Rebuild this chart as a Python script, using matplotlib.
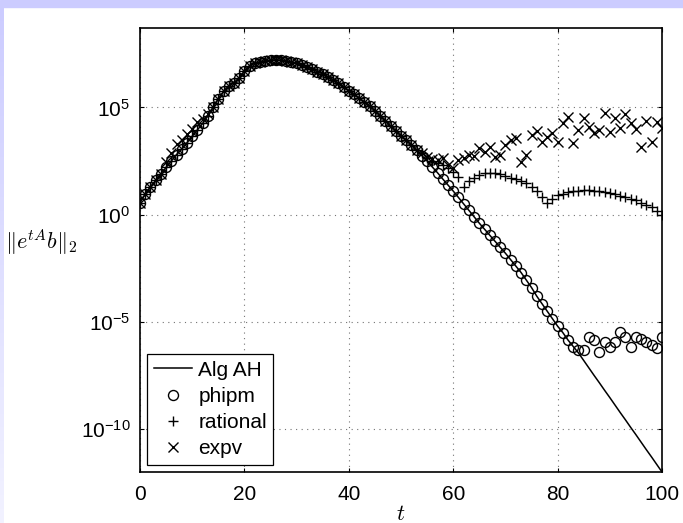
import numpy as np
import matplotlib.pyplot as plt
from matplotlib.patches import Rectangle
from matplotlib.ticker import NullLocator
from matplotlib.colors import LinearSegmentedColormap

plt.rcParams['font.family'] = ['Liberation Sans', 'DejaVu Sans']
plt.rcParams['mathtext.fontset'] = 'cm'

# time grid
t = np.arange(0, 101)

# log10 of ||e^{tA} b||_2, t = 0..100
alg_ah_exp = [
    0.55, 0.95, 1.3, 1.6, 1.9, 2.2, 2.5, 2.8, 3.05, 3.35,
    3.65, 3.95, 4.25, 4.6, 5.0, 5.4, 5.75, 6.0, 6.15, 6.35,
    6.7, 6.95, 7.05, 7.12, 7.17, 7.2, 7.22, 7.2, 7.17, 7.12,
    7.05, 6.97, 6.88, 6.78, 6.67, 6.55, 6.42, 6.28, 6.12, 5.95,
    5.78, 5.6, 5.42, 5.24, 5.05, 4.85, 4.62, 4.38, 4.12, 3.9,
    3.68, 3.47, 3.25, 3.0, 2.75, 2.5, 2.22, 1.95, 1.66, 1.38,
    1.1, 0.8, 0.5, 0.2, -0.1, -0.4, -0.68, -0.96, -1.24, -1.52,
    -1.8, -2.1, -2.4, -2.7, -3.05, -3.4, -3.8, -4.15, -4.5, -4.85,
    -5.2, -5.5, -5.85, -6.15, -6.45, -6.8, -7.15, -7.5, -7.84, -8.19,
    -8.53, -8.88, -9.23, -9.57, -9.92, -10.26, -10.61, -10.96, -11.3, -11.65,
    -12.0,
]

# phipm follows Alg AH up to t=83, then stalls around 1e-6
phipm_tail = [-6.3, -6.3, -5.7, -5.85, -6.4, -5.95, -6.15, -5.95, -5.45, -5.7,
              -6.15, -5.7, -5.8, -5.93, -6.08, -6.22, -5.7]
phipm_exp = alg_ah_exp[:84] + phipm_tail

# rational follows Alg AH up to t=53
rational_tail = [2.85, 2.65, 2.5, 2.4, 2.3, 2.15, 2.0, 1.75, 1.3, 1.55,
                 1.72, 1.85, 1.92, 1.95, 1.93, 1.88, 1.8, 1.72, 1.65, 1.57,
                 1.47, 1.3, 1.12, 0.8, 0.55, 0.75, 0.9, 0.98, 1.05, 1.1,
                 1.12, 1.13, 1.13, 1.12, 1.1, 1.06, 1.0, 0.95, 0.88, 0.82,
                 0.74, 0.66, 0.56, 0.46, 0.34, 0.15, 0.0]
rational_exp = alg_ah_exp[:54] + rational_tail

# expv: a bit high for t=5..13, then scatters after t=54
expv_early = [2.45, 2.85, 3.3, 3.5, 3.75, 4.0, 4.3, 4.45, 4.7]
expv_tail = [2.85, 2.7, 2.6, 2.55, 2.63, 2.3, 2.17, 2.55, 2.63, 2.78,
             2.73, 3.1, 2.92, 3.15, 2.68, 2.78, 3.24, 3.47, 3.57, 2.45,
             2.78, 3.7, 3.9, 3.38, 3.62, 3.8, 3.4, 4.27, 4.55, 3.33,
             3.94, 4.52, 4.08, 3.82, 3.96, 4.73, 3.85, 4.5, 4.03, 4.71,
             4.29, 3.98, 3.15, 4.35, 3.38, 4.31, 4.03]
expv_exp = alg_ah_exp[:5] + expv_early + alg_ah_exp[14:54] + expv_tail

xticks = [0, 20, 40, 60, 80, 100]
yticks = [1e-10, 1e-5, 1e0, 1e5]
ytick_labels = [r'$\mathregular{10^{-10}}$', r'$\mathregular{10^{-5}}$',
                r'$\mathregular{10^{0}}$', r'$\mathregular{10^{5}}$']

W, H = 683, 523
fig = plt.figure(figsize=(W / 100, H / 100), dpi=100)

# slide frame: lavender band on top, fading strip on the left
fig.add_artist(Rectangle((0, 1 - 7 / H), 1, 7 / H, transform=fig.transFigure,
                         color='#ccccff', zorder=0))
strip = fig.add_axes([0, 0, 4 / W, 1 - 7 / H])
grad = np.linspace(0, 1, 256).reshape(-1, 1)
cmap = LinearSegmentedColormap.from_list('lav', ['#ccccff', '#f2f2ff'])
strip.imshow(grad, aspect='auto', cmap=cmap, origin='upper')
strip.axis('off')

ax = fig.add_axes([140 / W, 1 - 472 / H, 522 / W, 444 / H])

ax.semilogy(t, 10.0 ** np.array(alg_ah_exp), color='k', lw=1.1, label='Alg AH')
ax.semilogy(t, 10.0 ** np.array(phipm_exp), ls='none', marker='o', ms=7.2,
            mfc='none', mec='k', mew=1.0, label='phipm')
ax.semilogy(t, 10.0 ** np.array(rational_exp), ls='none', marker='+', ms=7.5,
            mec='k', mew=1.0, label='rational')
ax.semilogy(t, 10.0 ** np.array(expv_exp), ls='none', marker='x', ms=6.5,
            mec='k', mew=1.0, label='expv')

ax.set_xlim(0, 100)
ax.set_ylim(1e-12, 10 ** 8.7)
ax.set_xticks(xticks)
ax.set_yticks(yticks)
ax.set_yticklabels(ytick_labels)
ax.yaxis.set_minor_locator(NullLocator())
ax.tick_params(axis='both', direction='in', top=True, right=True, length=3,
               width=0.8, labelsize=15)
ax.tick_params(axis='x', pad=9)
ax.tick_params(axis='y', pad=7)
ax.grid(True, ls=(0, (1, 4)), color='0.45', lw=0.8)
for s in ax.spines.values():
    s.set_linewidth(1.2)

ax.set_xlabel(r'$t$', fontsize=16, labelpad=0)
ax.set_ylabel(r'$\|e^{tA}b\|_2$', fontsize=16, rotation=0, ha='center', va='center')
ax.yaxis.set_label_coords(-0.19, 0.518)

leg = ax.legend(loc='lower left', fontsize=15, fancybox=False, edgecolor='k',
                framealpha=1, handlelength=1.85, handletextpad=0.3,
                labelspacing=0.35, borderpad=0.3, borderaxespad=0.35)
leg.get_frame().set_linewidth(0.9)

fig.savefig('out.png', dpi=100)
